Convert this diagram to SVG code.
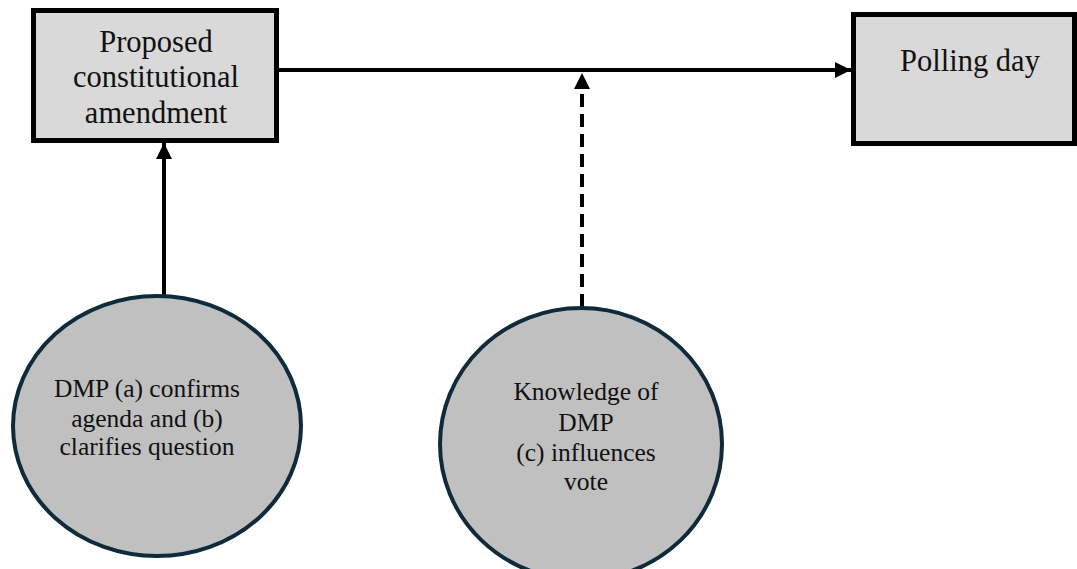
<svg xmlns="http://www.w3.org/2000/svg" width="1077" height="569" viewBox="0 0 1077 569">
<style>
.box{fill:#d9d9d9;stroke:#000;stroke-width:5}
.circ{fill:#c0c0c0;stroke:#0f2b3a;stroke-width:4}
.lbl{font-family:'Liberation Serif','DejaVu Serif',serif;fill:#111;text-anchor:middle}
.big{font-size:30.5px}
.small{font-size:25.5px}
.con{stroke:#000;stroke-width:4;fill:none}
</style>
<defs>
<marker id="ah" viewBox="0 0 10 10" refX="10" refY="5" markerWidth="4" markerHeight="4" orient="auto" markerUnits="strokeWidth">
<path d="M0,0 L10,5 L0,10 z" fill="#000"/>
</marker>
</defs>
<rect width="1077" height="569" fill="#fff"/>
<g id="connectors">
<line class="con" x1="279" y1="70" x2="851" y2="70" marker-end="url(#ah)"/>
<line class="con" x1="164" y1="296" x2="164" y2="143" marker-end="url(#ah)"/>
<line class="con" x1="582" y1="307" x2="582" y2="88" stroke-width="5" stroke-dasharray="13,7"/>
<path d="M574,89 L582,73 L590,89 z" fill="#000"/>
</g>
<g id="node-amendment">
<rect class="box" x="33.5" y="10.5" width="243" height="130"/>
<text class="lbl big" x="156" y="52">Proposed</text>
<text class="lbl big" x="156" y="87">constitutional</text>
<text class="lbl big" x="156" y="123">amendment</text>
</g>
<g id="node-polling">
<rect class="box" x="853.5" y="14.5" width="221" height="129"/>
<text class="lbl big" x="970" y="71">Polling day</text>
</g>
<g id="node-dmp">
<ellipse class="circ" cx="157" cy="426" rx="144" ry="130"/>
<text class="lbl small" x="147" y="397">DMP (a) confirms</text>
<text class="lbl small" x="147" y="427">agenda and (b)</text>
<text class="lbl small" x="147" y="455">clarifies question</text>
</g>
<g id="node-knowledge">
<ellipse class="circ" cx="581" cy="444" rx="141" ry="136"/>
<text class="lbl small" x="586" y="400">Knowledge of</text>
<text class="lbl small" x="586" y="431">DMP</text>
<text class="lbl small" x="586" y="461">(c) influences</text>
<text class="lbl small" x="586" y="490">vote</text>
</g>
</svg>
